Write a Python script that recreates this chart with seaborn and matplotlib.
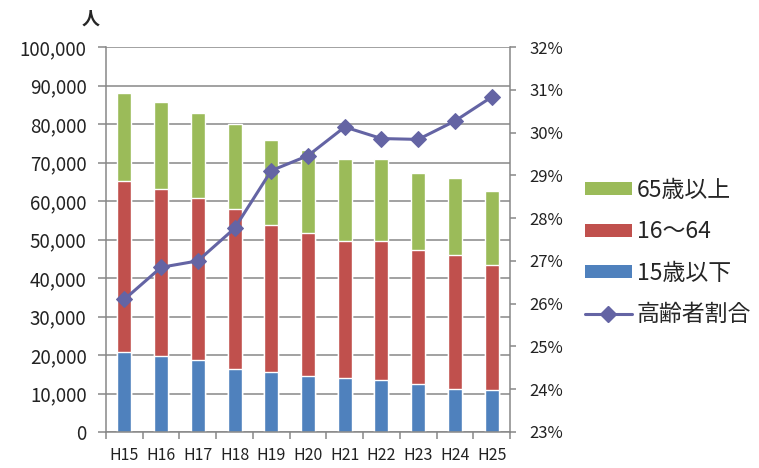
import numpy as np
import pandas as pd
import matplotlib.pyplot as plt
import seaborn as sns
from matplotlib.patches import Patch
from matplotlib.lines import Line2D
from matplotlib.ticker import FuncFormatter, MultipleLocator, FixedLocator

# data (people, and elderly share in %)
years = ['H15', 'H16', 'H17', 'H18', 'H19', 'H20', 'H21', 'H22', 'H23', 'H24', 'H25']
age_under15 = [20900, 19800, 18700, 16400, 15700, 14600, 13900, 13500, 12400, 11200, 10900]
age_16_64 = [44300, 43200, 42100, 41400, 38100, 37000, 35800, 36100, 35000, 34800, 32500]
age_65_over = [22800, 22800, 22000, 22300, 22000, 21600, 21300, 21400, 20000, 19900, 19100]
elderly_ratio = [26.10, 26.85, 27.00, 27.76, 29.11, 29.46, 30.13, 29.86, 29.84, 30.27, 30.83]

labels = ['65歳以上', '16～64', '15歳以下', '高齢者割合']
colors = ['#9BBB59', '#C0504D', '#4F81BD']
line_color = '#6464A4'
grid_color = '#878787'

df = pd.DataFrame({'year': years, 'under15': age_under15,
                   'mid': age_16_64, 'over65': age_65_over})
df['to_mid'] = df['under15'] + df['mid']
df['total'] = df['to_mid'] + df['over65']

sns.set_theme(style='white')
plt.rcParams['font.family'] = ['Noto Sans CJK JP', 'DejaVu Sans']

fig = plt.figure(figsize=(7.59, 4.68), dpi=100)
ax = fig.add_axes([106 / 759, 1 - 432 / 468, 404 / 759, 385 / 468])

# stacked bars: draw cumulative totals on top of each other
for col, c in zip(['total', 'to_mid', 'under15'], colors):
    sns.barplot(data=df, x='year', y=col, color=c, saturation=1, width=0.38,
                errorbar=None, ax=ax, zorder=2)

ax.set_xlim(-0.5, len(years) - 0.5)
ax.set_ylim(0, 100000)
ax.yaxis.set_major_locator(MultipleLocator(10000))
ax.yaxis.set_major_formatter(FuncFormatter(lambda v, p: f'{int(v):,}'))
ax.set_axisbelow(True)
ax.grid(axis='y', color=grid_color, linewidth=1.1)
ax.set_xlabel('')
ax.set_ylabel('')

for s in ['top', 'right']:
    ax.spines[s].set_visible(False)
for s in ['left', 'bottom']:
    ax.spines[s].set_color(grid_color)
    ax.spines[s].set_linewidth(1.1)

ax.tick_params(axis='y', which='major', left=True, length=6, width=1.1,
               color=grid_color, pad=8, labelsize=13.5, labelcolor='#222222')
ax.xaxis.set_minor_locator(FixedLocator(np.arange(-0.5, len(years), 1)))
ax.tick_params(axis='x', which='minor', bottom=True, length=5, width=1.1,
               color=grid_color)
ax.tick_params(axis='x', which='major', length=0, pad=11, labelsize=11.5,
               labelcolor='#222222')

# elderly share on the right axis
ax2 = ax.twinx()
sns.lineplot(x=np.arange(len(years)), y=elderly_ratio, ax=ax2, color=line_color,
             linewidth=2.2, marker='D', markersize=8.5, markeredgecolor=line_color,
             markerfacecolor=line_color)
ax2.set_ylim(23, 32)
ax2.yaxis.set_major_locator(MultipleLocator(1))
ax2.yaxis.set_major_formatter(FuncFormatter(lambda v, p: f'{int(round(v))}%'))
for s in ['top', 'left', 'bottom']:
    ax2.spines[s].set_visible(False)
ax2.spines['right'].set_color(grid_color)
ax2.spines['right'].set_linewidth(1.1)
ax2.tick_params(axis='y', right=True, length=4, width=1.1, color=grid_color,
                pad=10, labelsize=12, labelcolor='#222222')

fig.text(91 / 759, 1 - 19 / 468, '人', fontsize=13, fontweight='bold',
         ha='center', va='center')

handles = [Patch(facecolor=c, edgecolor='none') for c in colors]
handles.append(Line2D([0], [0], color=line_color, linewidth=2.2, marker='D',
                      markersize=8.5))
fig.legend(handles, labels, loc='upper left',
           bbox_to_anchor=(585 / 759, 1 - 179 / 468), frameon=False,
           fontsize=16.5, handlelength=2.05, handleheight=0.5,
           handletextpad=0.2, labelspacing=0.8, borderpad=0, borderaxespad=0)

fig.savefig('out.png', dpi=100)
